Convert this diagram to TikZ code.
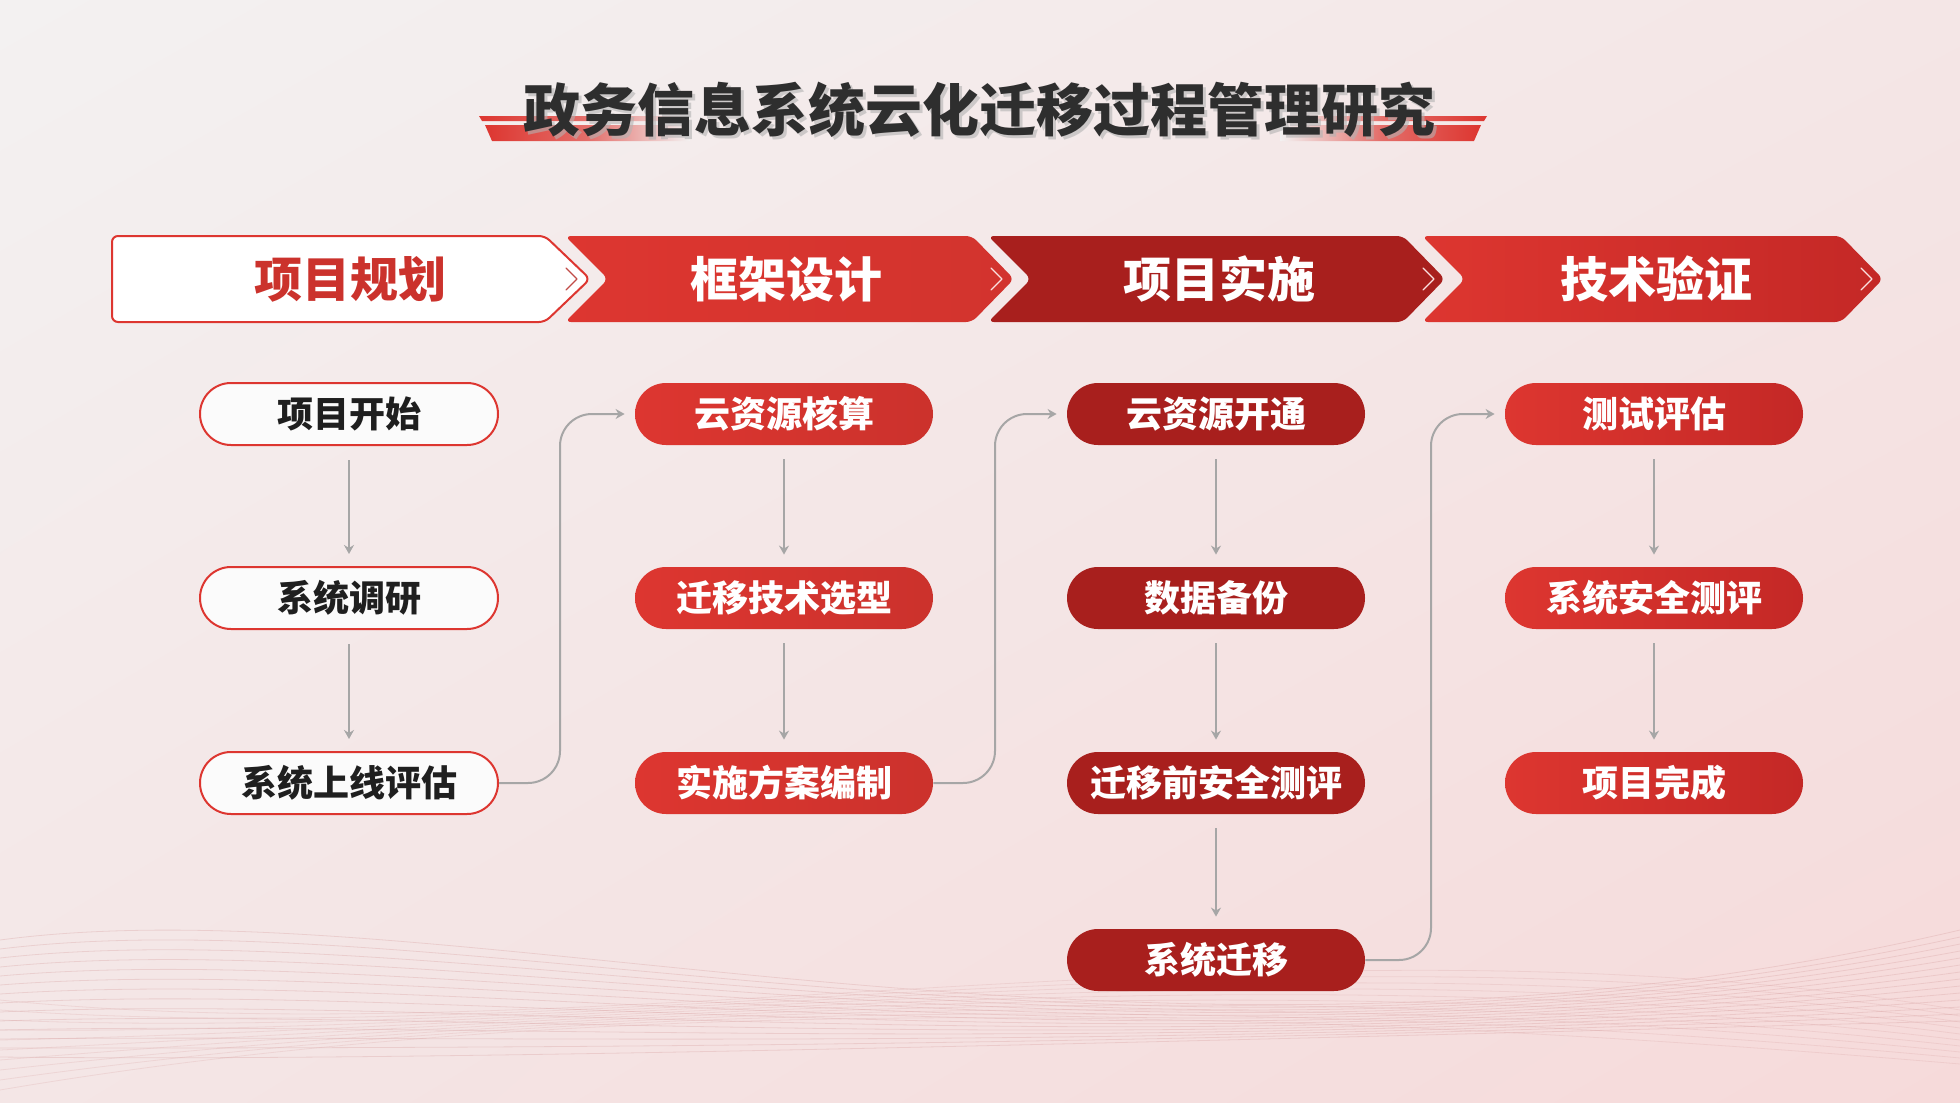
\documentclass[tikz,border=0pt]{standalone}
\usepackage{fontspec}
\newfontfamily\cjk{Noto Sans CJK SC}
\usetikzlibrary{arrows.meta,calc,shadings}
\definecolor{bgA}{HTML}{F3F1F1}
\definecolor{bgB}{HTML}{F6DADA}
\definecolor{bgC}{HTML}{F4E6E6}
\definecolor{redA}{HTML}{DD3630}
\definecolor{redB}{HTML}{C42826}
\definecolor{darkred}{HTML}{A81F1D}
\definecolor{linegray}{HTML}{A6A6A6}
\definecolor{titlegray}{HTML}{2E2E2E}
\definecolor{wave}{HTML}{D9A3A3}
\tikzset{
  stepbox/.style={rounded corners=15.5pt, minimum width=149pt, minimum height=31pt, inner sep=0pt,
    font=\cjk\bfseries\fontsize{18pt}{20pt}\selectfont, text=white},
  whitestep/.style={stepbox, fill=white!70!bgA, draw=redA, line width=1pt, text=black!88},
  redstep/.style={stepbox, left color=redA, right color=redA!92!black},
  darkstep/.style={stepbox, fill=darkred},
  gradstep/.style={stepbox, left color=redA, right color=redB},
  headtext/.style={font=\cjk\bfseries\fontsize{24pt}{26pt}\selectfont, text=white},
  conn/.style={draw=linegray, line width=1pt, -{Stealth[length=4.5pt,width=5pt]}},
  tickmark/.style={line width=0.6pt, line cap=round, line join=round},
}
\begin{document}
\begin{tikzpicture}[x=0.5pt,y=-0.5pt]
\useasboundingbox (0,0) rectangle (1960,1103);
% background
\shade[upper left=bgA, upper right=bgC, lower left=bgC, lower right=bgB] (0,0) rectangle (1960,1103);
% waves
\foreach \i in {0,...,13}{
  \draw[wave, opacity=0.35, line width=0.4pt]
    (0,{940+\i*9}) .. controls (450,{880+\i*14}) and (1150,{1120-\i*6}) .. (1960,{930+\i*7});
}
\foreach \i in {0,...,9}{
  \draw[wave, opacity=0.25, line width=0.4pt]
    (0,{1000+\i*10}) .. controls (600,{1060-\i*8}) and (1300,{900+\i*12}) .. (1960,{1010+\i*6});
}
% title bars
\shade[left color=redA, right color=bgA, middle color=redA!70!bgA] (479,116) -- (690,116) -- (690,121) -- (482,121) -- cycle;
\shade[left color=redA, right color=bgA, middle color=redA!70!bgA] (485,125) -- (690,125) -- (690,141) -- (492,141) -- cycle;
\shade[right color=redA, left color=bgA, middle color=redA!70!bgA] (1280,116) -- (1487,116) -- (1484,121) -- (1280,121) -- cycle;
\shade[right color=redA, left color=bgA, middle color=redA!70!bgA] (1280,125) -- (1481,125) -- (1474,141) -- (1280,141) -- cycle;
\node[font=\cjk\bfseries\fontsize{28.5pt}{30pt}\selectfont, text=black!30, opacity=0.6] at (982,113) {政务信息系统云化迁移过程管理研究};
\node[font=\cjk\bfseries\fontsize{28.5pt}{30pt}\selectfont, text=titlegray] (title) at (979,110) {政务信息系统云化迁移过程管理研究};
% header chevrons
\filldraw[fill=white, draw=redA, line width=1pt, rounded corners=3pt]
  (112,236) -- (545,236) -- (590,279) -- (545,322) -- (112,322) -- cycle;
\shade[left color=redA, right color=redA!95!black, rounded corners=3pt]
  (565,236) -- (972,236) -- (1014,279) -- (972,322) -- (565,322) -- (608,279) -- cycle;
\fill[darkred, rounded corners=3pt]
  (988,236) -- (1403,236) -- (1445,279) -- (1403,322) -- (988,322) -- (1031,279) -- cycle;
\shade[left color=redA, right color=redB, rounded corners=3pt]
  (1422,236) -- (1841,236) -- (1883,279) -- (1841,322) -- (1422,322) -- (1465,279) -- cycle;
\draw[tickmark, draw=redA!70!gray] (566,268) -- (577,279) -- (566,290);
\draw[tickmark, draw=white!85!redA] (991,268) -- (1002,279) -- (991,290);
\draw[tickmark, draw=white!85!redA] (1423,268) -- (1434,279) -- (1423,290);
\draw[tickmark, draw=white!85!redA] (1861,268) -- (1872,279) -- (1861,290);
\node[headtext, text=redA!92!black] (h1) at (350,279) {项目规划};
\node[headtext] (h2) at (786,279) {框架设计};
\node[headtext] (h3) at (1219,279) {项目实施};
\node[headtext] (h4) at (1656,279) {技术验证};
% nodes
\node[whitestep] (n11) at (349,414) {项目开始};
\node[whitestep] (n12) at (349,598) {系统调研};
\node[whitestep] (n13) at (349,783) {系统上线评估};
\node[redstep] (n21) at (784,414) {云资源核算};
\node[redstep] (n22) at (784,598) {迁移技术选型};
\node[redstep] (n23) at (784,783) {实施方案编制};
\node[darkstep] (n31) at (1216,414) {云资源开通};
\node[darkstep] (n32) at (1216,598) {数据备份};
\node[darkstep] (n33) at (1216,783) {迁移前安全测评};
\node[darkstep] (n34) at (1216,960) {系统迁移};
\node[gradstep] (n41) at (1654,414) {测试评估};
\node[gradstep] (n42) at (1654,598) {系统安全测评};
\node[gradstep] (n43) at (1654,783) {项目完成};
% vertical connectors
\foreach \a/\b in {n11/n12,n12/n13,n21/n22,n22/n23,n31/n32,n32/n33,n33/n34,n41/n42,n42/n43}{
  \draw[conn, shorten <=7pt, shorten >=6pt] (\a) -- (\b);
}
% cross connectors
\coordinate (k1) at (560,600);
\coordinate (k2) at (995,600);
\coordinate (k3) at (1431,700);
\draw[conn, rounded corners=16pt, shorten >=5pt] (n13.east) -| (k1) |- (n21.west);
\draw[conn, rounded corners=16pt, shorten >=5pt] (n23.east) -| (k2) |- (n31.west);
\draw[conn, rounded corners=16pt, shorten >=5pt] (n34.east) -| (k3) |- (n41.west);
\end{tikzpicture}
\end{document}
